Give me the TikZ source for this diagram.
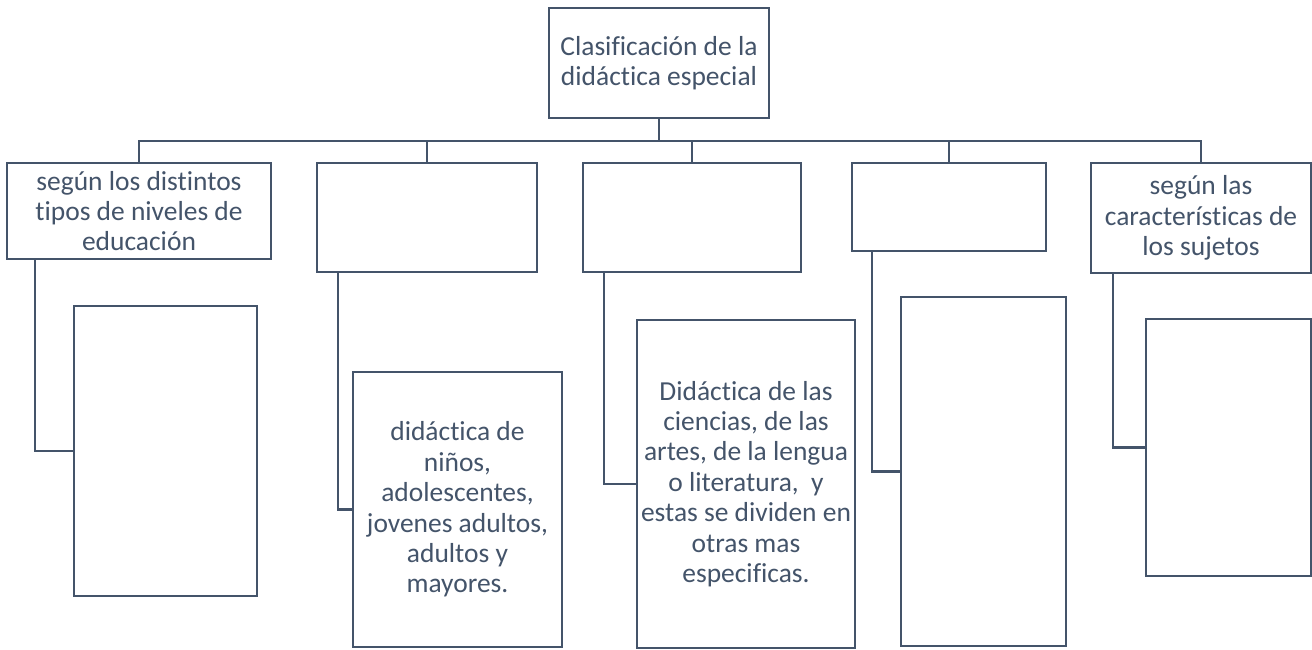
\documentclass[tikz,border=0pt]{standalone}
\usepackage{fontspec}
\setmainfont[Ligatures=NoCommon]{Carlito}
\definecolor{ink}{HTML}{44546A}
\begin{document}
\begin{tikzpicture}[x=0.75pt,y=-0.75pt,
  box/.style={draw=ink,line width=2.2pt,fill=white,inner sep=0pt,align=center,text=ink,
    font=\fontsize{20.6}{22.8}\selectfont},
  link/.style={draw=ink,line width=2.2pt}]
\useasboundingbox (0,0) rectangle (1312,649);
\node[box,minimum width=165pt,minimum height=82.5pt] (top) at (659,63) {Clasificación de la\\didáctica especial};
\node[box,minimum width=198pt,minimum height=72pt] (b1) at (139,211) {según los distintos\\tipos de niveles de\\educación};
\node[box,minimum width=165pt,minimum height=81.75pt] (b2) at (427,217.5) {};
\node[box,minimum width=163.5pt,minimum height=81.75pt] (b3) at (692,217.5) {};
\node[box,minimum width=145.5pt,minimum height=66pt] (b4) at (949,207) {};
\node[box,minimum width=165pt,minimum height=82.5pt] (b5) at (1201,218) {según las\\características de\\los sujetos};
\node[box,minimum width=137.25pt,minimum height=217.5pt] (c1) at (165.5,451) {};
\node[box,minimum width=156.75pt,minimum height=206.25pt] (c2) at (457.5,509.5) {didáctica de\\niños,\\adolescentes,\\jovenes adultos,\\adultos y\\mayores.};
\node[box,minimum width=163.5pt,minimum height=246pt] (c3) at (746,484) {Didáctica de las\\ciencias, de las\\artes, de la lengua\\o literatura,\ \ y\\estas se dividen en\\otras mas\\especificas.};
\node[box,minimum width=123.75pt,minimum height=261.75pt] (c4) at (983.5,471.5) {};
\node[box,minimum width=123.75pt,minimum height=192.75pt] (c5) at (1228.5,447.5) {};
\coordinate (bar) at (659,141);
\draw[link] (top.south) -- (bar);
\draw[link] (b1.north) |- (bar);
\draw[link] (bar) -| (b5.north);
\draw[link] (b2.north) -- (b2.north |- bar);
\draw[link] (b3.north) -- (b3.north |- bar);
\draw[link] (b4.north) -- (b4.north |- bar);
\coordinate (d1) at (35,259);
\coordinate (d2) at (338,272);
\coordinate (d3) at (604,272);
\coordinate (d4) at (872,251);
\coordinate (d5) at (1113,273);
\draw[link] (d1) |- (c1.west);
\draw[link] (d2) |- (c2.west);
\draw[link] (d3) |- (c3.west);
\draw[link] (d4) |- (c4.west);
\draw[link] (d5) |- (c5.west);
\end{tikzpicture}
\end{document}
